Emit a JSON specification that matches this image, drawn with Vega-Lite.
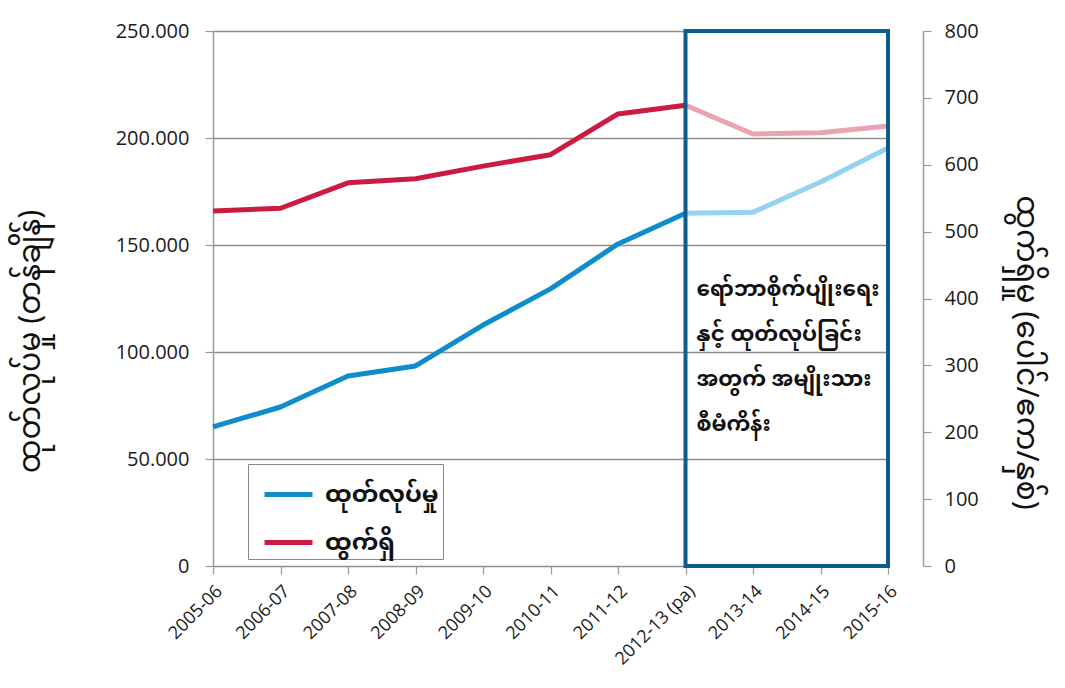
{
  "$schema": "https://vega.github.io/schema/vega-lite/v6.json",
  "width": 710,
  "height": 535,
  "autosize": {"type": "none"},
  "padding": {"left": 213, "top": 31, "right": 142, "bottom": 122},
  "background": "white",
  "config": {
    "view": {"stroke": null},
    "font": "Open Sans",
    "axis": {"labelFont": "Open Sans", "titleFont": "Noto Sans Myanmar, Padauk, Noto Sans, sans-serif", "titleFontWeight": "normal", "labelColor": "#1a1a1a", "titleColor": "#111", "domainColor": "#9a9a9a", "tickColor": "#9a9a9a", "tickSize": 8, "tickWidth": 1.2, "domainWidth": 1.5}
  },
  "datasets": {
    "rubber": [
      {"year": "2005-06", "production": 65000, "yield": 531, "period": "actual"},
      {"year": "2006-07", "production": 74300, "yield": 535, "period": "actual"},
      {"year": "2007-08", "production": 88800, "yield": 573, "period": "actual"},
      {"year": "2008-09", "production": 93500, "yield": 579, "period": "actual"},
      {"year": "2009-10", "production": 112600, "yield": 598, "period": "actual"},
      {"year": "2010-11", "production": 129500, "yield": 615, "period": "actual"},
      {"year": "2011-12", "production": 150500, "yield": 676, "period": "actual"},
      {"year": "2012-13 (pa)", "production": 164800, "yield": 689, "period": "actual"},
      {"year": "2013-14", "production": 165300, "yield": 646, "period": "plan"},
      {"year": "2014-15", "production": 179400, "yield": 648, "period": "plan"},
      {"year": "2015-16", "production": 195300, "yield": 658, "period": "plan"}
    ],
    "note": [
      {"year": "2012-13 (pa)", "end": "2015-16", "label": "ရော်ဘာစိုက်ပျိုးရေး\nနှင့် ထုတ်လုပ်ခြင်း\nအတွက် အမျိုးသား\nစီမံကိန်း"}
    ]
  },
  "encoding": {
    "x": {
      "field": "year",
      "type": "ordinal",
      "scale": {"type": "point", "domain": ["2005-06", "2006-07", "2007-08", "2008-09", "2009-10", "2010-11", "2011-12", "2012-13 (pa)", "2013-14", "2014-15", "2015-16"], "range": [0, 675], "padding": 0},
      "axis": {"title": null, "labelAngle": -45, "labelFontSize": 18, "domain": false, "grid": false, "labelPadding": 8}
    }
  },
  "layer": [
    {
      "data": {"name": "rubber"},
      "layer": [
        {
          "transform": [{"filter": "datum.period == 'actual'"}],
          "mark": {"type": "line", "strokeWidth": 5, "strokeJoin": "round"},
          "encoding": {
            "y": {
              "field": "yield", "type": "quantitative",
              "scale": {"domain": [0, 800], "nice": false},
              "axis": {"orient": "right", "values": [0, 100, 200, 300, 400, 500, 600, 700, 800], "grid": false, "labelFontSize": 20, "labelPadding": 13, "title": "ထွက်ရှိမှု (ပေါင်/ဧက/နှစ်)", "titleFontSize": 30, "titleAngle": 90, "titleX": 102, "titleY": 321, "titleAlign": "center", "titleBaseline": "middle"}
            },
            "color": {
              "datum": "ထွက်ရှိ",
              "scale": {"domain": ["ထုတ်လုပ်မှု", "ထွက်ရှိ"], "range": ["#0e8ccc", "#cc1b40"]},
              "legend": {"title": null, "orient": "none", "legendX": 35, "legendY": 433, "symbolType": "stroke", "symbolStrokeWidth": 5, "symbolSize": 2304, "symbolOffset": 10, "labelFontSize": 24, "labelFontWeight": "bold", "labelFont": "Noto Sans Myanmar, Padauk, Noto Sans, sans-serif", "labelColor": "#111", "labelExpr": "datum.label + '\u00a0\u00a0\u00a0'", "fillColor": "white", "strokeColor": "#888", "padding": 4, "rowPadding": 9, "labelOffset": 10}
            }
          }
        },
        {
          "transform": [{"filter": "datum.period == 'plan' || datum.year == '2012-13 (pa)'"}],
          "mark": {"type": "line", "strokeWidth": 5, "strokeJoin": "round", "color": "#e9a3b1"},
          "encoding": {
            "y": {"field": "yield", "type": "quantitative", "scale": {"domain": [0, 800], "nice": false}}
          }
        }
      ]
    },
    {
      "layer": [
        {
          "data": {"name": "rubber"},
          "transform": [{"filter": "datum.period == 'actual'"}],
          "mark": {"type": "line", "strokeWidth": 5, "strokeJoin": "round"},
          "encoding": {
            "y": {
              "field": "production", "type": "quantitative",
              "scale": {"domain": [0, 250000], "nice": false},
              "axis": {"orient": "left", "values": [0, 50000, 100000, 150000, 200000, 250000], "labelExpr": "replace(format(datum.value, ','), ',', '.')", "grid": true, "gridColor": "#8f8f8f", "gridWidth": 1.3, "labelFontSize": 20, "labelPadding": 16, "title": "ထုတ်လုပ်မှု (တန်ချိန်)", "titleFontSize": 30, "titleAngle": -90, "titleX": -183, "titleY": 310, "titleAlign": "center", "titleBaseline": "middle"}
            },
            "color": {"datum": "ထုတ်လုပ်မှု"}
          }
        },
        {
          "data": {"name": "rubber"},
          "transform": [{"filter": "datum.period == 'plan' || datum.year == '2012-13 (pa)'"}],
          "mark": {"type": "line", "strokeWidth": 5, "strokeJoin": "round", "color": "#93d2f0"},
          "encoding": {
            "y": {"field": "production", "type": "quantitative", "scale": {"domain": [0, 250000], "nice": false}}
          }
        },
        {
          "data": {"name": "note"},
          "mark": {"type": "rect", "filled": false, "stroke": "#0f5b8c", "strokeWidth": 4},
          "encoding": {
            "x": {"field": "year", "type": "ordinal"},
            "x2": {"field": "end"},
            "y": {"datum": 250000, "type": "quantitative", "scale": {"domain": [0, 250000], "nice": false}},
            "y2": {"datum": 0}
          }
        },
        {
          "data": {"name": "note"},
          "mark": {"type": "text", "align": "left", "baseline": "middle", "lineBreak": "\n", "lineHeight": 45, "fontSize": 21.5, "fontWeight": "bold", "dx": 11, "color": "#111", "font": "Noto Sans Myanmar, Padauk, Noto Sans, sans-serif"},
          "encoding": {
            "x": {"field": "year", "type": "ordinal"},
            "y": {"datum": 129000, "type": "quantitative", "scale": {"domain": [0, 250000], "nice": false}},
            "text": {"field": "label"}
          }
        }
      ]
    }
  ],
  "resolve": {"scale": {"y": "independent"}, "axis": {"y": "independent"}}
}
